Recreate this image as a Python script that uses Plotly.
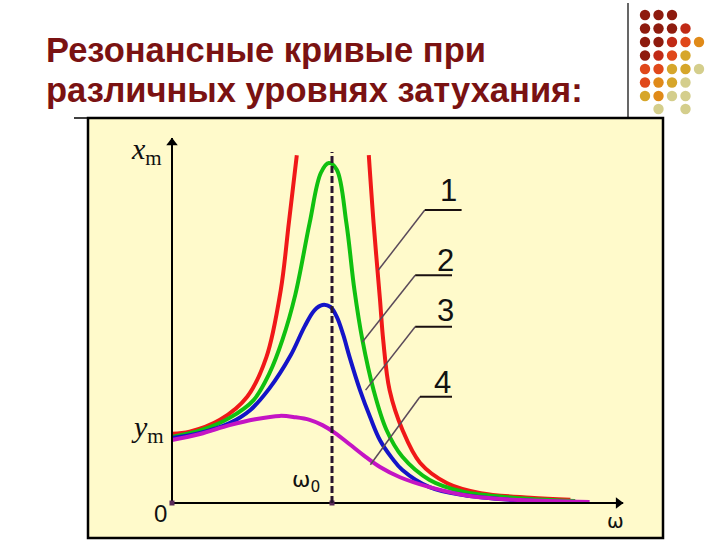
import plotly.graph_objects as go

# ---- data (omega in units of omega0, amplitude in units of y_m) ----
red_w_left = [0.0, 0.11, 0.30, 0.47, 0.59, 0.68, 0.73, 0.78]
red_a_left = [1.05, 1.08, 1.26, 1.61, 2.21, 3.23, 4.24, 5.27]
red_w_right = [1.23, 1.26, 1.30, 1.32, 1.36, 1.44, 1.55, 1.72, 1.93, 2.24, 2.49]
red_a_right = [5.27, 4.24, 3.08, 2.47, 1.71, 1.11, 0.61, 0.30, 0.15, 0.08, 0.05]

green_w = [0.0, 0.19, 0.36, 0.51, 0.61, 0.69, 0.77, 0.86, 0.93, 0.98, 1.03, 1.09, 1.14, 1.19,
           1.26, 1.34, 1.44, 1.61, 1.82, 2.13, 2.52]
green_a = [1.0, 1.11, 1.29, 1.56, 1.97, 2.47, 3.15, 4.24, 5.0, 5.15, 5.05, 4.24, 3.23, 2.47,
           1.71, 1.11, 0.70, 0.35, 0.17, 0.08, 0.03]

blue_w = [0.0, 0.175, 0.36, 0.49, 0.61, 0.74, 0.83, 0.89, 0.94, 0.99, 1.03, 1.07, 1.11, 1.175,
          1.24, 1.30, 1.375, 1.44, 1.61, 1.82, 2.13, 2.46]
blue_a = [0.985, 1.06, 1.21, 1.41, 1.74, 2.23, 2.68, 2.92, 3.0, 2.97, 2.82, 2.55, 2.21, 1.71,
          1.29, 0.95, 0.68, 0.50, 0.24, 0.12, 0.045, 0.015]

mag_w = [0.0, 0.175, 0.36, 0.52, 0.675, 0.77, 0.86, 0.94, 1.02, 1.11, 1.21, 1.30, 1.425, 1.61,
         1.86, 2.175, 2.61]
mag_a = [0.955, 1.045, 1.18, 1.27, 1.32, 1.30, 1.26, 1.18, 1.06, 0.89, 0.70, 0.545, 0.39, 0.24,
         0.105, 0.045, 0.015]

curve_labels = ["1", "2", "3", "4"]
# leader lines: start on curve -> elbow -> end
leader_pts = [
    [(1.29, 3.53), (1.58, 4.44), (1.81, 4.44)],
    [(1.19, 2.44), (1.52, 3.45), (1.75, 3.45)],
    [(1.21, 1.71), (1.52, 2.67), (1.75, 2.67)],
    [(1.24, 0.58), (1.55, 1.61), (1.75, 1.61)],
]
label_pos = [(1.725, 4.73), (1.71, 3.68), (1.71, 2.91), (1.69, 1.82)]

axis_x_end = 2.82
axis_y_end = 5.53

title_lines = ["Резонансные кривые при", "различных уровнях затухания:"]

# ---- pixel helpers for decoration (paper coords) ----
W, H = 720, 540
def px(x):
    return x / W
def py(y):
    return 1 - y / H

fig = go.Figure()

lw = 4
fig.add_trace(go.Scatter(x=red_w_left + [None] + red_w_right, y=red_a_left + [None] + red_a_right,
                         mode="lines", line=dict(color="#F01818", width=lw, shape="spline"),
                         connectgaps=False, hoverinfo="skip"))
fig.add_trace(go.Scatter(x=green_w, y=green_a, mode="lines",
                         line=dict(color="#10C010", width=lw, shape="spline"), hoverinfo="skip"))
fig.add_trace(go.Scatter(x=blue_w, y=blue_a, mode="lines",
                         line=dict(color="#1414C8", width=lw, shape="spline"), hoverinfo="skip"))
fig.add_trace(go.Scatter(x=mag_w, y=mag_a, mode="lines",
                         line=dict(color="#C414C4", width=lw, shape="spline"), hoverinfo="skip"))

# axes with arrowheads
fig.add_trace(go.Scatter(x=[0, axis_x_end], y=[0, 0], mode="lines",
                         line=dict(color="#000", width=2), hoverinfo="skip"))
fig.add_trace(go.Scatter(x=[0, 0], y=[0, axis_y_end], mode="lines",
                         line=dict(color="#000", width=2), hoverinfo="skip"))
fig.add_trace(go.Scatter(x=[axis_x_end - 0.03], y=[0], mode="markers",
                         marker=dict(symbol="triangle-right", size=10, color="#000"), hoverinfo="skip"))
fig.add_trace(go.Scatter(x=[0], y=[axis_y_end - 0.07], mode="markers",
                         marker=dict(symbol="triangle-up", size=10, color="#000"), hoverinfo="skip"))
fig.add_trace(go.Scatter(x=[0, 1.0], y=[0, 0], mode="markers",
                         marker=dict(symbol="square", size=5, color="#5A2A5A"), hoverinfo="skip"))

shapes = []
# chart panel
shapes.append(dict(type="rect", xref="paper", yref="paper", x0=px(88), x1=px(663), y0=py(538), y1=py(118),
                   fillcolor="#FFFACB", line=dict(color="#000000", width=2.5), layer="below"))
# slide rules
shapes.append(dict(type="line", xref="paper", yref="paper", x0=px(74), x1=px(628), y0=py(118), y1=py(118),
                   line=dict(color="#000000", width=1.5), layer="below"))
shapes.append(dict(type="line", xref="paper", yref="paper", x0=px(628), x1=px(628), y0=py(3), y1=py(118),
                   line=dict(color="#000000", width=1.2), layer="below"))

# decorative dots
cols = [645, 658.5, 672, 685.5, 699]
rows = [15, 28.5, 42, 55.5, 69, 82.5, 96, 109]
B, R, RO, O, G, P = "#8E1B0E", "#C02A16", "#E0481A", "#E08A18", "#D6A62A", "#D4CE8C"
dot_grid = [
    [B, B, B, None, None],
    [B, B, B, R, None],
    [B, B, R, RO, O],
    [B, R, RO, G, None],
    [RO, RO, G, G, P],
    [RO, O, G, P, None],
    [G, O, P, P, None],
    [None, P, None, P, None],
]
r = 5.2
for ri, row in enumerate(dot_grid):
    for ci, c in enumerate(row):
        if c:
            cx, cy = cols[ci], rows[ri]
            shapes.append(dict(type="circle", xref="paper", yref="paper",
                               x0=px(cx - r), x1=px(cx + r), y0=py(cy + r), y1=py(cy - r),
                               fillcolor=c, line=dict(width=0)))

# resonance dashed line
shapes.append(dict(type="line", xref="x", yref="y", x0=1.0, x1=1.0, y0=0, y1=5.32,
                   line=dict(color="#2A1530", width=3, dash="7px,3px")))
# leader lines
for pts in leader_pts:
    (x0, y0), (x1, y1), (x2, y2) = pts
    shapes.append(dict(type="line", xref="x", yref="y", x0=x0, y0=y0, x1=x1, y1=y1,
                       line=dict(color="#5A4A5A", width=1.5)))
    shapes.append(dict(type="line", xref="x", yref="y", x0=x1, y0=y1, x1=x2, y1=y2,
                       line=dict(color="#1A1010", width=2)))

annotations = []
for t, (lx, ly) in zip(curve_labels, label_pos):
    annotations.append(dict(x=lx, y=ly, xref="x", yref="y", text=t, showarrow=False,
                            font=dict(family="Liberation Sans", size=31, color="#111")))

serif = "Liberation Serif"
annotations.append(dict(x=-0.27, y=5.33, xref="x", yref="y", xanchor="left", text="<i>x</i><sub>m</sub>",
                        showarrow=False, font=dict(family=serif, size=30, color="#111")))
annotations.append(dict(x=-0.27, y=1.12, xref="x", yref="y", xanchor="left", text="<i>y</i><sub>m</sub>",
                        showarrow=False, font=dict(family=serif, size=30, color="#111")))
annotations.append(dict(x=-0.075, y=-0.16, xref="x", yref="y", text="0", showarrow=False,
                        font=dict(family="Liberation Sans", size=24, color="#111")))
annotations.append(dict(x=0.74, y=0.33, xref="x", yref="y", xanchor="left", text="ω<sub>0</sub>", showarrow=False,
                        font=dict(family="DejaVu Sans", size=22, color="#111")))
annotations.append(dict(x=2.77, y=-0.27, xref="x", yref="y", text="ω", showarrow=False,
                        font=dict(family="DejaVu Sans", size=20, color="#111")))

# title
annotations.append(dict(x=px(44), y=py(50), xref="paper", yref="paper", xanchor="left", yanchor="middle",
                        text=title_lines[0], showarrow=False,
                        font=dict(family="Liberation Sans", size=34.5, color="#7A1212", weight="bold")))
annotations.append(dict(x=px(44), y=py(90), xref="paper", yref="paper", xanchor="left", yanchor="middle",
                        text=title_lines[1], showarrow=False,
                        font=dict(family="Liberation Sans", size=34.5, color="#7A1212", weight="bold")))

fig.update_layout(
    width=W, height=H, margin=dict(l=0, r=0, t=0, b=0),
    paper_bgcolor="#FFFFFF", plot_bgcolor="rgba(0,0,0,0)",
    showlegend=False, shapes=shapes, annotations=annotations,
    xaxis=dict(range=[-172 / 160, (720 - 172) / 160], visible=False, fixedrange=True),
    yaxis=dict(range=[-37 / 66, 503 / 66], visible=False, fixedrange=True),
)
fig.write_html("out.html", config={"displayModeBar": False},
               post_script="document.body.style.margin='0';document.body.style.overflow='hidden';")
